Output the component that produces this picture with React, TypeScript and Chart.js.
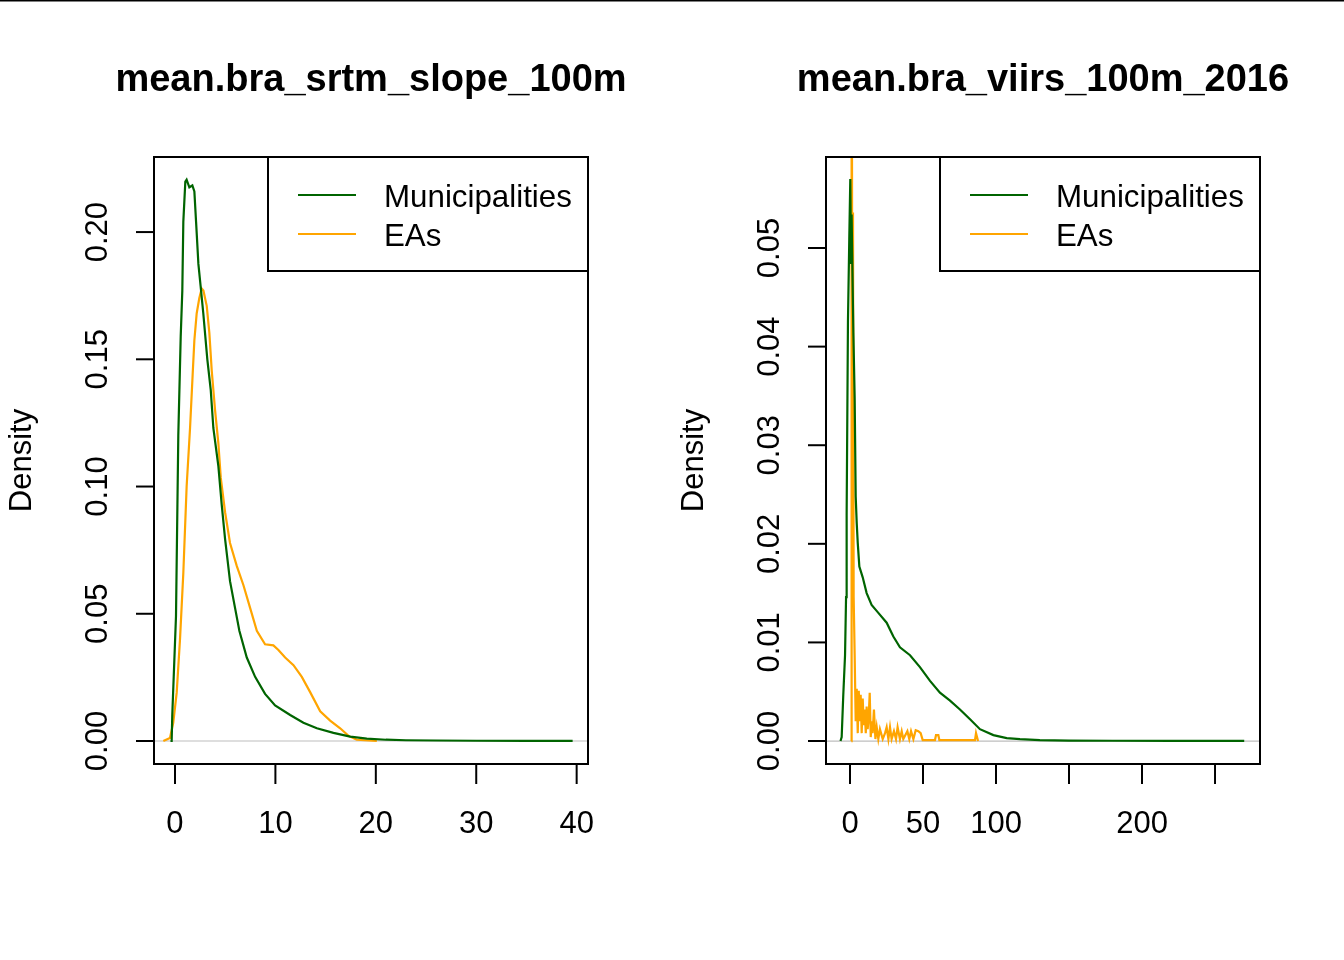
import React, { useEffect, useRef } from "react";
import { Chart, registerables } from "chart.js";
Chart.register(...registerables);

// ---- Data: left panel (mean.bra_srtm_slope_100m) ----
const slopeMuniX = [-0.45, -0.33, -0.27, 0.1, 0.33, 0.57, 0.73, 0.83, 1.03, 1.16, 1.43, 1.73, 1.93, 2.1, 2.33, 2.56, 2.82, 3.22, 3.56, 3.82, 4.32, 4.65, 4.99, 5.48, 5.98, 6.41, 7.15, 7.98, 8.97, 9.97, 11.47, 12.79, 14.13, 15.78, 17.45, 19.1, 21, 23, 26, 30, 35, 39.6];
const slopeMuniY = [0, 0, 0.0102, 0.049, 0.12, 0.159, 0.177, 0.204, 0.2198, 0.2206, 0.2176, 0.2183, 0.216, 0.204, 0.1875, 0.1785, 0.168, 0.15, 0.138, 0.123, 0.108, 0.093, 0.0793, 0.0628, 0.0523, 0.0433, 0.0328, 0.0252, 0.0185, 0.014, 0.0102, 0.0072, 0.005, 0.0032, 0.0017, 0.0009, 0.0005, 0.0003, 0.0002, 0.0001, 0.00005, 0.00003];
const slopeEAX = [-1.16, -0.5, -0.17, 0.17, 0.5, 0.83, 1.16, 1.5, 1.76, 1.93, 2.16, 2.42, 2.66, 2.83, 3.16, 3.42, 3.66, 3.99, 4.32, 4.56, 4.99, 5.48, 6.15, 6.81, 7.48, 8.15, 8.97, 9.8, 10.3, 10.97, 11.8, 12.63, 13.46, 14.46, 15.45, 16.45, 17.28, 18.1, 20.1];
const slopeEAY = [0, 0.0012, 0.0072, 0.019, 0.04, 0.066, 0.1, 0.123, 0.144, 0.1575, 0.168, 0.174, 0.1778, 0.177, 0.171, 0.1605, 0.1455, 0.13, 0.117, 0.1034, 0.0899, 0.0778, 0.0688, 0.0613, 0.0523, 0.0433, 0.038, 0.0376, 0.0358, 0.0328, 0.0298, 0.0252, 0.0192, 0.0117, 0.008, 0.005, 0.002, 0.0005, 0];
const slopeXTicks = [0, 10, 20, 30, 40];
const slopeXTickLabels = ["0", "10", "20", "30", "40"];
const slopeYTicks = [0, 0.05, 0.1, 0.15, 0.2];
const slopeYTickLabels = ["0.00", "0.05", "0.10", "0.15", "0.20"];

// ---- Data: right panel (mean.bra_viirs_100m_2016) ----
const viirsMuniX = [-6.5, -5.7, -4.6, -3.4, -2.7, -2.3, -1.4, -0.5, 0.2, 0.7, 1.1, 2.3, 3.2, 3.9, 4.6, 5.3, 6.4, 8.7, 11.4, 14.8, 19.4, 25.1, 29.7, 34.2, 41.1, 47.9, 54.8, 61.6, 68.5, 75.3, 82.2, 89, 98.2, 107.3, 116.4, 130, 150, 180, 220, 270];
const viirsMuniY = [0, 0.0004, 0.0047, 0.0087, 0.0146, 0.0229, 0.0426, 0.0509, 0.057, 0.0485, 0.0534, 0.0414, 0.0347, 0.0248, 0.0221, 0.0201, 0.0177, 0.0166, 0.015, 0.0138, 0.013, 0.012, 0.0106, 0.0095, 0.0087, 0.0075, 0.0061, 0.0049, 0.0041, 0.0032, 0.0022, 0.0012, 0.0006, 0.0003, 0.0002, 0.0001, 0.00005, 0.00003, 0.00002, 0.00001];
const viirsEAX = [0.9, 1.1, 1.6, 2.05, 2.5, 3.2, 3.9, 4.6, 5.3, 6.0, 6.6, 7.3, 8.0, 8.7, 9.4, 10.1, 10.8, 11.4, 12.1, 12.8, 13.5, 14.2, 14.9, 15.5, 16.4, 17.4, 18.3, 19.4, 20.5, 22.4, 24, 25.1, 26.3, 27.4, 28.5, 30.1, 31.5, 32.6, 34.2, 35.4, 36.5, 39.3, 40.6, 41.8, 43.4, 45, 46.8, 48.4, 49.8, 58.2, 58.9, 60.5, 61.2, 85.6, 86.3, 87.7];
const viirsEAY = [0, 0.09, 0.0323, 0.0536, 0.0146, 0.0087, 0.002, 0.0053, 0.0008, 0.0051, 0.002, 0.0047, 0.0008, 0.0043, 0.0016, 0.0032, 0.0008, 0.0035, 0.0012, 0.0024, 0.0049, 0.0004, 0.002, 0.0008, 0.0032, 0.0002, 0.0014, 0.0002, 0.0012, 0.0002, 0.0008, 0.0014, 0.0002, 0.0014, 0.0002, 0.001, 0.0002, 0.0014, 0.0002, 0.001, 0.0002, 0.001, 0.0002, 0.001, 0.0002, 0.0011, 0.001, 0.0008, 0.0001, 0.0001, 0.0006, 0.0006, 0.0001, 0.0001, 0.0008, 0];
const viirsXTicks = [0, 50, 100, 150, 200, 250];
const viirsXTickLabels = ["0", "50", "100", "", "200", ""];
const viirsYTicks = [0, 0.01, 0.02, 0.03, 0.04, 0.05];
const viirsYTickLabels = ["0.00", "0.01", "0.02", "0.03", "0.04", "0.05"];

const seriesNames = ["Municipalities", "EAs"];
const seriesColors = ["#006400", "#FFA500"];

const FONT = "'Liberation Sans', Arial, sans-serif";

type PanelProps = {
  title: string;
  xs: number[][];
  ys: number[][];
  xMin: number; xMax: number; yMin: number; yMax: number;
  xTicks: number[]; xTickLabels: string[];
  yTicks: number[]; yTickLabels: string[];
};

function Panel(p: PanelProps) {
  const ref = useRef<HTMLCanvasElement | null>(null);
  useEffect(() => {
    if (!ref.current) return;
    const plugin = {
      id: "rbase",
      beforeDatasetsDraw(chart: any) {
        const { ctx, chartArea: a } = chart;
        const y0 = chart.scales.y.getPixelForValue(0);
        ctx.save();
        ctx.strokeStyle = "#BEBEBE";
        ctx.lineWidth = 1.2;
        ctx.beginPath();
        ctx.moveTo(a.left, y0);
        ctx.lineTo(a.right, y0);
        ctx.stroke();
        ctx.restore();
      },
      afterDraw(chart: any) {
        const { ctx, chartArea: a } = chart;
        const xs = chart.scales.x;
        const ys = chart.scales.y;
        ctx.save();
        // top page line
        ctx.fillStyle = "#000";
        ctx.fillRect(0, 0, chart.width, 1.5);
        // box
        ctx.strokeStyle = "#000";
        ctx.lineWidth = 2;
        ctx.strokeRect(a.left, a.top, a.right - a.left, a.bottom - a.top);
        // x ticks
        ctx.font = `31px ${FONT}`;
        ctx.textAlign = "center";
        ctx.textBaseline = "middle";
        p.xTicks.forEach((t, i) => {
          const px = xs.getPixelForValue(t);
          ctx.beginPath();
          ctx.moveTo(px, a.bottom);
          ctx.lineTo(px, a.bottom + 20);
          ctx.stroke();
          if (p.xTickLabels[i]) ctx.fillText(p.xTickLabels[i], px, a.bottom + 60);
        });
        // y ticks
        p.yTicks.forEach((t, i) => {
          const py = ys.getPixelForValue(t);
          ctx.beginPath();
          ctx.moveTo(a.left - 18, py);
          ctx.lineTo(a.left, py);
          ctx.stroke();
          ctx.save();
          ctx.translate(a.left - 56, py);
          ctx.rotate(-Math.PI / 2);
          ctx.fillText(p.yTickLabels[i], 0, 0);
          ctx.restore();
        });
        // y title
        ctx.save();
        ctx.font = `31px ${FONT}`;
        ctx.translate(22, (a.top + a.bottom) / 2);
        ctx.rotate(-Math.PI / 2);
        ctx.fillText("Density", 0, 0);
        ctx.restore();
        // main title
        ctx.font = `bold 38px ${FONT}`;
        ctx.fillText(p.title, (a.left + a.right) / 2, 81);
        // legend
        const lx = a.right - 320;
        ctx.lineWidth = 2;
        ctx.strokeRect(lx, a.top, 320, 114);
        ctx.font = `31.3px ${FONT}`;
        ctx.textAlign = "left";
        seriesNames.forEach((n, i) => {
          const ly = a.top + 38 + i * 39;
          ctx.strokeStyle = seriesColors[i];
          ctx.beginPath();
          ctx.moveTo(lx + 30, ly);
          ctx.lineTo(lx + 88, ly);
          ctx.stroke();
          ctx.fillStyle = "#000";
          ctx.fillText(n, lx + 116, ly + 3);
        });
        ctx.restore();
      },
    };
    const chart = new Chart(ref.current, {
      type: "line",
      data: {
        datasets: p.xs.map((xarr, k) => ({
          label: seriesNames[k],
          data: xarr.map((x, i) => ({ x, y: p.ys[k][i] })),
          borderColor: seriesColors[k],
          borderWidth: 2.2,
          pointRadius: 0,
          tension: 0,
          fill: false,
        })),
      },
      options: {
        animation: false,
        responsive: false,
        devicePixelRatio: 1,
        layout: { padding: { left: 154, right: 84, top: 157, bottom: 196 } },
        plugins: { legend: { display: false }, tooltip: { enabled: false }, title: { display: false } },
        scales: {
          x: { type: "linear", min: p.xMin, max: p.xMax, display: false },
          y: { type: "linear", min: p.yMin, max: p.yMax, display: false },
        },
      },
      plugins: [plugin],
    } as any);
    return () => chart.destroy();
  }, []);
  return <canvas ref={ref} width={672} height={960} style={{ display: "block", width: 672, height: 960 }} />;
}

export default function App() {
  return (
    <div style={{ position: "fixed", left: 0, top: 0, width: 1344, height: 960, background: "#fff", display: "flex" }}>
      <Panel
        title="mean.bra_srtm_slope_100m"
        xs={[slopeMuniX, slopeEAX]}
        ys={[slopeMuniY, slopeEAY]}
        xMin={-2.09} xMax={41.13} yMin={-0.00904} yMax={0.2295}
        xTicks={slopeXTicks} xTickLabels={slopeXTickLabels}
        yTicks={slopeYTicks} yTickLabels={slopeYTickLabels}
      />
      <Panel
        title="mean.bra_viirs_100m_2016"
        xs={[viirsMuniX, viirsEAX]}
        ys={[viirsMuniY, viirsEAY]}
        xMin={-16.44} xMax={280.8} yMin={-0.00233} yMax={0.05923}
        xTicks={viirsXTicks} xTickLabels={viirsXTickLabels}
        yTicks={viirsYTicks} yTickLabels={viirsYTickLabels}
      />
    </div>
  );
}
